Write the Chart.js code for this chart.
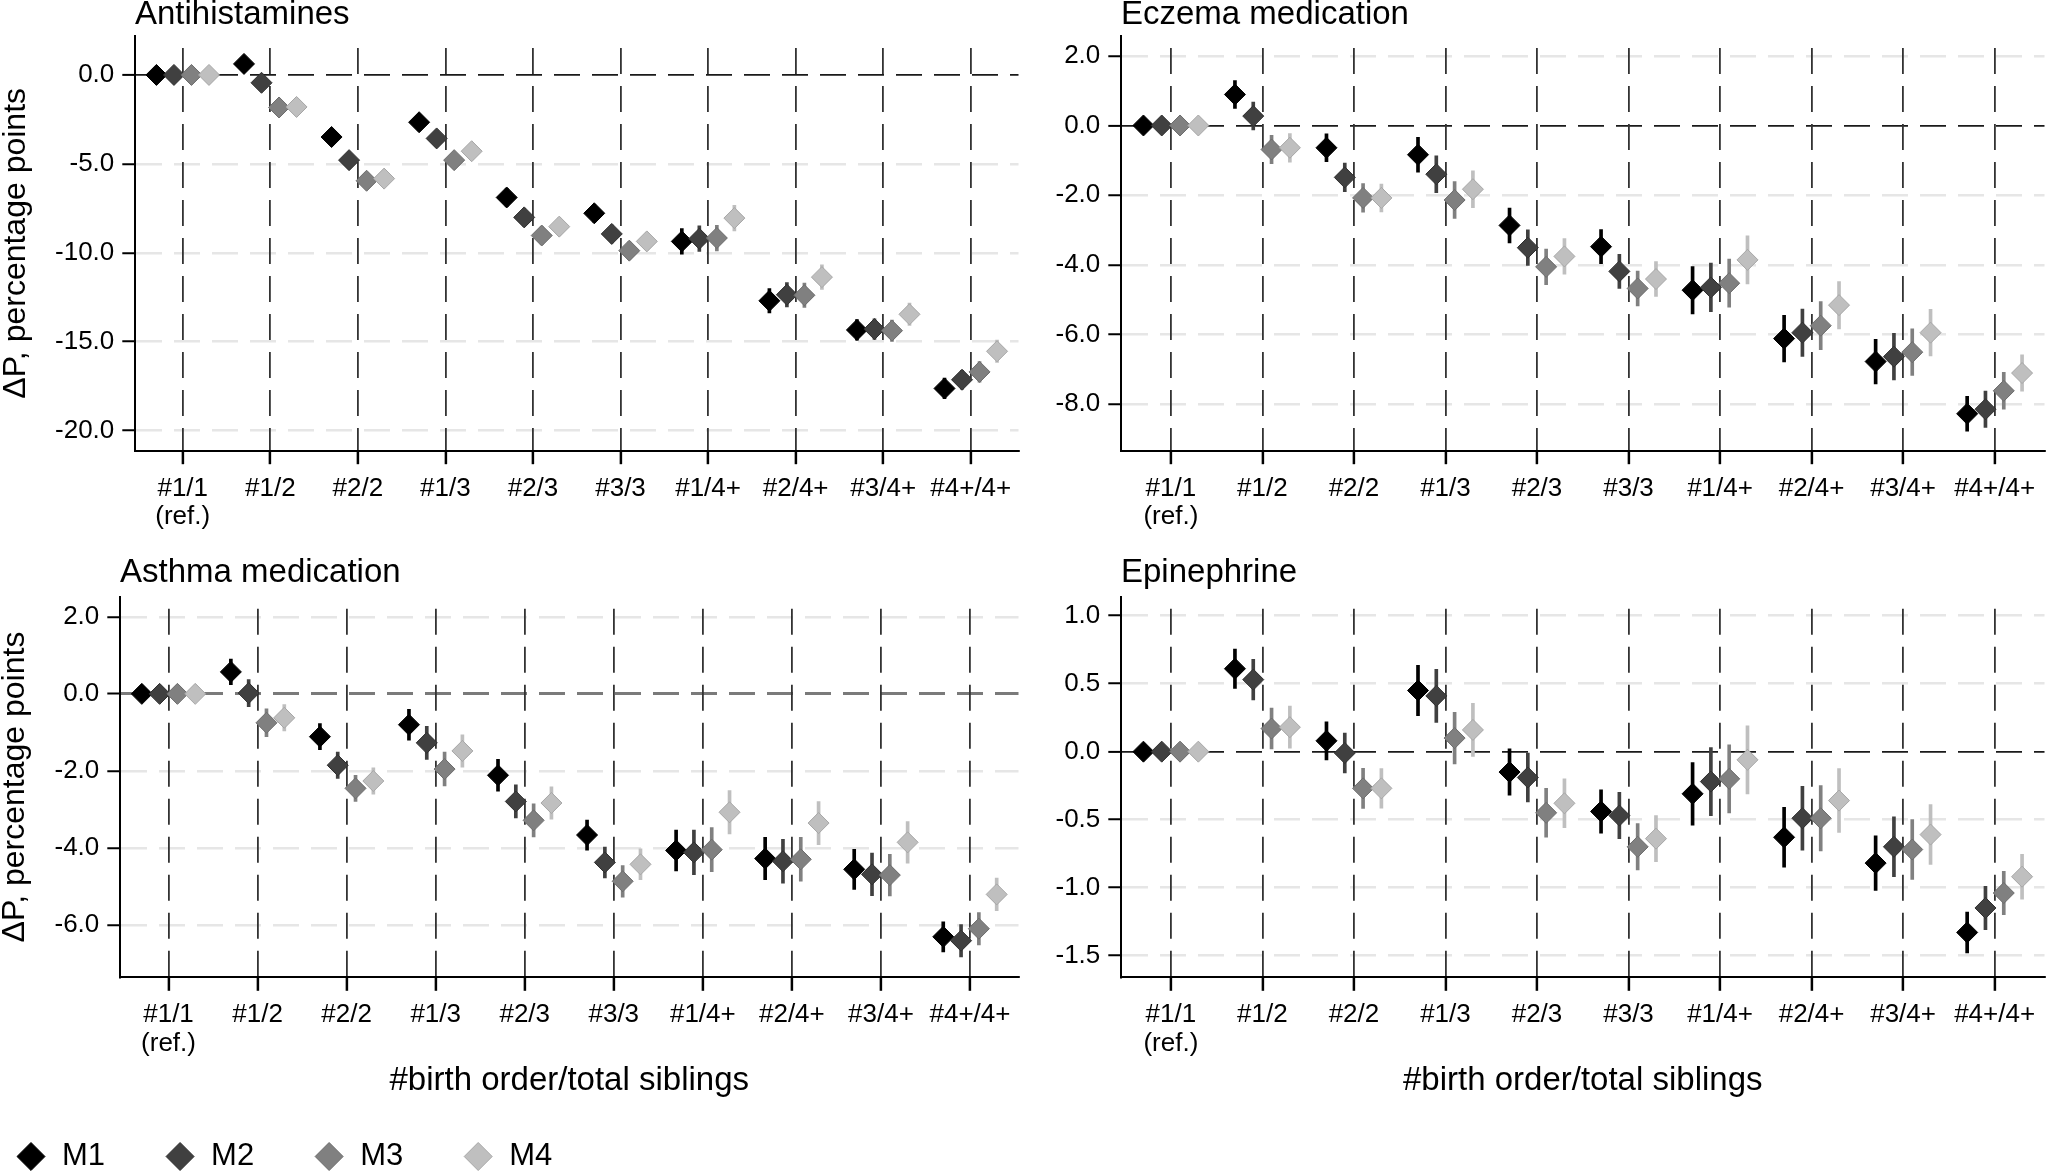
<!DOCTYPE html>
<html>
<head>
<meta charset="utf-8">
<title>Birth order and medication use</title>
<script src="https://cdn.jsdelivr.net/npm/chart.js@4.4.1/dist/chart.umd.min.js"></script>
<style>
  html, body { margin: 0; padding: 0; background: #fff; overflow: hidden; }
  body { width: 2056px; height: 1172px; position: relative; }
  .panel { position: absolute; }
</style>
</head>
<body>
<div class="panel" style="left:0px;top:0px;width:1030px;height:540px"><canvas id="antihist"></canvas></div>
<div class="panel" style="left:1030px;top:0px;width:1026px;height:540px"><canvas id="eczema"></canvas></div>
<div class="panel" style="left:-44px;top:540px;width:1074px;height:642px"><canvas id="asthma"></canvas></div>
<div class="panel" style="left:1030px;top:540px;width:1026px;height:632px"><canvas id="epi"></canvas></div>
<script>
// categories and series
const categories = ['#1/1', '#1/2', '#2/2', '#1/3', '#2/3', '#3/3', '#1/4+', '#2/4+', '#3/4+', '#4+/4+'];
const refNote = '(ref.)';
const models = ['M1', 'M2', 'M3', 'M4'];

// Antihistamines: estimate per model (M1..M4), then CI half width
const antihistValues = [
  [0, 0.62, -3.49, -2.66, -6.89, -7.78, -9.36, -12.70, -14.34, -17.63],
  [0, -0.44, -4.79, -3.57, -8.01, -8.94, -9.21, -12.36, -14.29, -17.14],
  [0, -1.83, -5.95, -4.79, -9.03, -9.88, -9.17, -12.39, -14.38, -16.70],
  [0, -1.80, -5.83, -4.29, -8.53, -9.36, -8.05, -11.37, -13.46, -15.54]
];
const antihistErrors = [
  [0, 0.40, 0.45, 0.45, 0.50, 0.50, 0.72, 0.68, 0.58, 0.58],
  [0, 0.40, 0.45, 0.45, 0.50, 0.50, 0.72, 0.68, 0.58, 0.53],
  [0, 0.40, 0.45, 0.45, 0.50, 0.50, 0.72, 0.68, 0.60, 0.58],
  [0, 0.40, 0.45, 0.45, 0.50, 0.50, 0.72, 0.69, 0.63, 0.63]
];
const antihistTicks = [0, -5, -10, -15, -20];

const eczemaValues = [
  [0, 0.89, -0.64, -0.84, -2.87, -3.48, -4.73, -6.12, -6.78, -8.28],
  [0, 0.27, -1.49, -1.40, -3.51, -4.19, -4.65, -5.95, -6.64, -8.15],
  [0, -0.69, -2.08, -2.14, -4.06, -4.68, -4.53, -5.75, -6.51, -7.62],
  [0, -0.64, -2.08, -1.83, -3.76, -4.41, -3.86, -5.16, -5.95, -7.11]
];
const eczemaErrors = [
  [0, 0.40, 0.40, 0.50, 0.50, 0.49, 0.68, 0.67, 0.64, 0.50],
  [0, 0.40, 0.41, 0.53, 0.51, 0.49, 0.70, 0.68, 0.67, 0.52],
  [0, 0.41, 0.41, 0.53, 0.51, 0.50, 0.69, 0.69, 0.67, 0.53],
  [0, 0.41, 0.40, 0.53, 0.51, 0.50, 0.69, 0.68, 0.67, 0.52]
];
const eczemaTicks = [2, 0, -2, -4, -6, -8];

const asthmaValues = [
  [0, 0.57, -1.11, -0.80, -2.11, -3.66, -4.06, -4.27, -4.55, -6.30],
  [0, 0.02, -1.85, -1.27, -2.79, -4.37, -4.11, -4.34, -4.68, -6.40],
  [0, -0.75, -2.45, -1.95, -3.28, -4.86, -4.04, -4.29, -4.70, -6.09],
  [0, -0.62, -2.26, -1.48, -2.83, -4.42, -3.07, -3.35, -3.85, -5.20]
];
const asthmaErrors = [
  [0, 0.33, 0.34, 0.40, 0.41, 0.39, 0.53, 0.55, 0.52, 0.39],
  [0, 0.35, 0.34, 0.43, 0.43, 0.40, 0.58, 0.57, 0.55, 0.42],
  [0, 0.36, 0.34, 0.44, 0.43, 0.41, 0.57, 0.57, 0.54, 0.42],
  [0, 0.34, 0.34, 0.42, 0.42, 0.40, 0.56, 0.56, 0.54, 0.42]
];
const asthmaTicks = [2, 0, -2, -4, -6];

const epiValues = [
  [0, 0.61, 0.08, 0.45, -0.15, -0.44, -0.31, -0.63, -0.82, -1.33],
  [0, 0.53, -0.01, 0.41, -0.19, -0.47, -0.22, -0.49, -0.70, -1.15],
  [0, 0.17, -0.27, 0.10, -0.45, -0.70, -0.20, -0.49, -0.72, -1.04],
  [0, 0.18, -0.27, 0.16, -0.38, -0.64, -0.06, -0.36, -0.61, -0.92]
];
const epiErrors = [
  [0, 0.145, 0.14, 0.185, 0.17, 0.16, 0.23, 0.22, 0.20, 0.15],
  [0, 0.15, 0.146, 0.195, 0.18, 0.17, 0.25, 0.235, 0.22, 0.16],
  [0, 0.15, 0.148, 0.19, 0.18, 0.17, 0.25, 0.24, 0.22, 0.16],
  [0, 0.155, 0.145, 0.195, 0.18, 0.17, 0.25, 0.235, 0.22, 0.165]
];
const epiTicks = [1, 0.5, 0, -0.5, -1, -1.5];

// styling
const fills = ['#000000', '#404040', '#808080', '#bfbfbf'];
const edges = ['#000000', '#2e2e2e', '#6b6b6b', '#a6a6a6'];
const dodge = [-0.3, -0.1, 0.1, 0.3];

Chart.defaults.font.family = "'Liberation Sans', Arial, Helvetica, sans-serif";
Chart.defaults.color = '#000';

function makePanel(id, p) {
  const datasets = [];
  models.forEach((m, k) => {
    datasets.push({
      type: 'scatter',
      label: m,
      data: categories.map((c, i) => ({x: i + dodge[k], y: p.vals[k][i]})),
      pointStyle: 'rectRot',
      pointRadius: 10.5,
      pointHoverRadius: 10.5,
      backgroundColor: fills[k],
      borderColor: edges[k],
      borderWidth: 1,
      order: 3 - k
    });
  });
  // confidence intervals as thin floating bars
  models.forEach((m, k) => {
    datasets.push({
      type: 'bar',
      label: m + ' CI',
      data: categories.map((c, i) => ({x: i + dodge[k], y: [p.vals[k][i] - p.errs[k][i], p.vals[k][i] + p.errs[k][i]]})),
      backgroundColor: fills[k],
      borderWidth: 0,
      barThickness: 3,
      grouped: false,
      order: 13 - k
    });
  });

  new Chart(document.getElementById(id), {
    type: 'scatter',
    data: {datasets: datasets},
    options: {
      animation: false,
      responsive: true,
      maintainAspectRatio: false,
      events: [],
      layout: {padding: {left: 0, top: 0, right: p.padRight, bottom: 0}},
      plugins: {
        tooltip: {enabled: false},
        title: {
          display: true, text: p.title, align: 'start', fullSize: false, color: '#000',
          font: {size: 33, weight: 'normal', lineHeight: 0.8},
          padding: {top: p.titleTop, bottom: p.titleBottom}
        },
        legend: p.legend ? {
          display: true, position: 'bottom', align: 'start',
          labels: {
            usePointStyle: true, boxWidth: 31, boxHeight: 19.8, padding: 59.5, color: '#000',
            font: {size: 31},
            filter: item => item.datasetIndex < 4,
            sort: (a, b) => a.datasetIndex - b.datasetIndex
          }
        } : {display: false}
      },
      scales: {
        x: {
          type: 'linear', min: -0.545, max: 9.545, offset: false,
          afterBuildTicks: s => { s.ticks = categories.map((c, i) => ({value: i})); },
          afterFit: s => {
            const lg = s.chart.legend;
            const lh = (p.legend && lg) ? lg.height : 0;
            s.height = s.chart.height - lh - p.plotBottom;
          },
          ticks: {
            autoSkip: false, maxRotation: 0, minRotation: 0, padding: 10, color: '#000',
            font: {size: 26, lineHeight: 1.1},
            callback: (v, i) => i === 0 ? [categories[0], refNote] : categories[i]
          },
          grid: {offset: false, color: '#333', lineWidth: 1.8, tickLength: 13.5, tickColor: '#000', tickWidth: 2.5},
          border: {display: true, color: '#000', width: 2, dash: [26, 12], dashOffset: 26},
          title: p.xTitle ? {
            display: true, text: '#birth order/total siblings', color: '#000',
            font: {size: 33, lineHeight: 1}, padding: {top: 0, bottom: p.xTitlePad}
          } : {display: false}
        },
        y: {
          type: 'linear', min: p.yMin, max: p.yMax, offset: false,
          afterBuildTicks: s => { s.ticks = p.yTicks.map(v => ({value: v})); },
          afterFit: s => { s.width = p.yWidth; },
          ticks: {padding: 8, color: '#000', font: {size: 26, lineHeight: 1.1}, callback: v => v.toFixed(1)},
          grid: {
            z: -2, offset: false,
            color: c => (c.tick && c.tick.value === 0) ? p.zeroColor : '#e6e6e6',
            lineWidth: c => (c.tick && c.tick.value === 0) ? p.zeroWidth : 2.5,
            tickLength: 12.7, tickColor: '#000', tickWidth: 2
          },
          border: {display: true, color: '#000', width: 2, dash: [26, 12], dashOffset: 0},
          title: p.yTitle ? {
            display: true, text: 'ΔP, percentage points', color: '#000',
            font: {size: 32, lineHeight: 1}, padding: {top: p.yTitlePad, bottom: 0}
          } : {display: false}
        }
      }
    }
  });
}

makePanel('antihist', {
  title: 'Antihistamines', vals: antihistValues, errs: antihistErrors, yTicks: antihistTicks,
  yMin: -21.13, yMax: 2.19, yWidth: 135, padRight: 10, plotBottom: 450.7,
  titleTop: 2, titleBottom: 7.6, yTitle: true, yTitlePad: 0, xTitle: false, legend: false,
  zeroColor: '#1a1a1a', zeroWidth: 1.8
});
makePanel('eczema', {
  title: 'Eczema medication', vals: eczemaValues, errs: eczemaErrors, yTicks: eczemaTicks,
  yMin: -9.34, yMax: 2.57, yWidth: 91, padRight: 0, plotBottom: 450.7,
  titleTop: 2, titleBottom: 7.6, yTitle: false, xTitle: false, legend: false,
  zeroColor: '#1a1a1a', zeroWidth: 1.8
});
makePanel('asthma', {
  title: 'Asthma medication', vals: asthmaValues, errs: asthmaErrors, yTicks: asthmaTicks,
  yMin: -7.35, yMax: 2.52, yWidth: 164, padRight: 10, plotBottom: 437.3,
  titleTop: 19.7, titleBottom: 10.6, yTitle: true, yTitlePad: 43, xTitle: true, xTitlePad: -16, legend: true,
  zeroColor: '#7a7a7a', zeroWidth: 3
});
makePanel('epi', {
  title: 'Epinephrine', vals: epiValues, errs: epiErrors, yTicks: epiTicks,
  yMin: -1.66, yMax: 1.14, yWidth: 91, padRight: 0, plotBottom: 437.3,
  titleTop: 19.7, titleBottom: 10.6, yTitle: false, xTitle: true, xTitlePad: 74.5, legend: false,
  zeroColor: '#1a1a1a', zeroWidth: 1.8
});
</script>
</body>
</html>
